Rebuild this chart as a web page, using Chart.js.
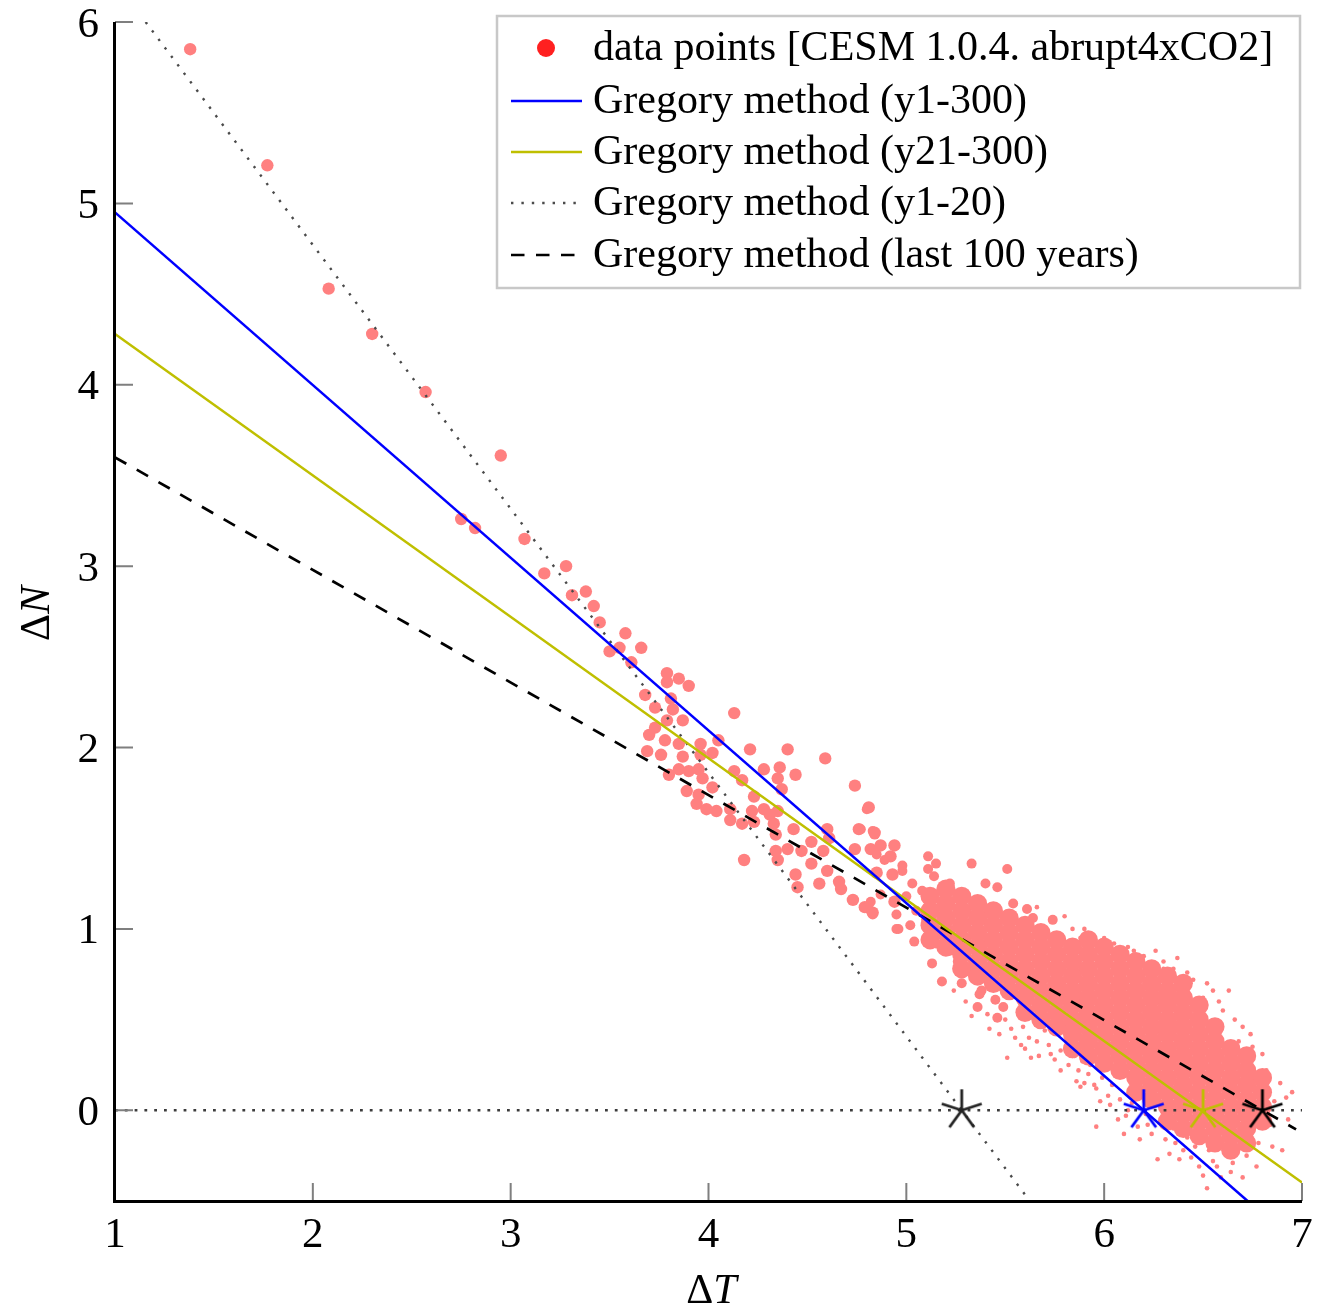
<!DOCTYPE html>
<html>
<head>
<meta charset="utf-8">
<title>Gregory regression – CESM 1.0.4 abrupt4xCO2</title>
<script src="https://cdn.jsdelivr.net/npm/chart.js@4.4.1/dist/chart.umd.min.js"></script>
<style>
  html, body { margin: 0; padding: 0; background: #fff; }
  canvas { display: block; }
</style>
</head>
<body>
<canvas id="chart" width="1329" height="1311"></canvas>
<script>
// ── Data ───────────────────────────────────────────────────────
const xTicks = [1, 2, 3, 4, 5, 6, 7];
const yTicks = [0, 1, 2, 3, 4, 5, 6];

const legendLabels = [
  'data points [CESM 1.0.4. abrupt4xCO2]',
  'Gregory method (y1-300)',
  'Gregory method (y21-300)',
  'Gregory method (y1-20)',
  'Gregory method (last 100 years)',
];

// first decades: single, well separated years
const earlyPoints = [
  [1.38,5.85],[1.77,5.21],[2.08,4.53],[2.30,4.28],[2.57,3.96],[2.95,3.61],[2.75,3.26],[2.82,3.21],
  [3.07,3.15],[3.17,2.96],[3.28,3.00],[3.31,2.84],[3.38,2.86],[3.42,2.78],[3.45,2.69],[3.58,2.63],
  [3.55,2.55],[3.50,2.53],[3.66,2.55],[3.61,2.47],[3.79,2.41],[3.79,2.36],[3.85,2.38],[3.90,2.34],
  [3.68,2.29],[3.81,2.27],[3.73,2.22],[3.82,2.21],[4.13,2.19],[3.79,2.15],[3.87,2.15],[3.73,2.11],
  [3.70,2.07],[3.78,2.04],[3.85,2.02],[3.96,2.02],[4.05,2.04],[3.69,1.98],[3.76,1.96],[3.87,1.95],
  [4.02,1.97],[3.96,1.96],[4.21,1.99],[4.40,1.99],[4.59,1.94],[3.85,1.88],[3.90,1.87],[3.95,1.88],
  [3.97,1.83],[3.80,1.85],[4.02,1.78],[4.13,1.87],[4.17,1.82],[4.28,1.88],[4.36,1.89],[4.35,1.83],
  [4.44,1.85],[4.37,1.77],[4.74,1.79],[3.89,1.76],[3.95,1.74],[3.94,1.69],[3.99,1.66],[4.04,1.65],
  [4.11,1.66],[4.23,1.73],[4.22,1.65],[4.28,1.66],[4.31,1.63],[4.35,1.65],[4.11,1.60],[4.17,1.58],
  [4.23,1.59],[4.33,1.58],[4.43,1.55],[4.81,1.67],[4.76,1.55],[4.84,1.53],[4.34,1.52],[4.34,1.43],
  [4.40,1.44],[4.47,1.43],[4.52,1.48],[4.60,1.55],[4.61,1.50],[4.35,1.38],[4.52,1.36],[4.58,1.43],
  [4.18,1.38],[4.44,1.30],[4.60,1.32],[4.56,1.25],[4.45,1.23],[4.66,1.26],[4.67,1.22],[4.73,1.16],
  [4.79,1.12],[4.83,1.09],[4.74,1.44],[4.82,1.44],[4.87,1.46],[4.94,1.46],[4.92,1.40],[4.85,1.31],
  [4.93,1.30],[4.94,1.15],
];

// upper-left end of the cloud
const cloudMedium = [
  [4.80,1.66],[4.83,1.54],[4.87,1.46],[4.85,1.41],[4.89,1.38],[4.98,1.35],[5.11,1.40],[5.15,1.36],
  [5.33,1.36],[5.51,1.33],[4.93,1.30],[4.98,1.32],[5.11,1.33],[5.14,1.29],[5.03,1.25],[5.08,1.21],
  [5.22,1.25],[5.40,1.25],[5.46,1.23],[4.87,1.19],[4.82,1.15],[4.83,1.08],[4.96,1.00],[5.04,0.93],
  [5.13,0.99],[5.13,0.81],[5.18,0.71],[5.28,0.70],[5.37,0.64],[5.54,1.14],[5.61,1.11],[5.74,1.05],
  [5.64,1.06],[4.77,1.55],[4.84,1.52],[4.95,1.00],[4.73,1.16],[4.82,1.10],[5.45,0.61],[5.38,0.66],
  [5.49,0.57],[5.36,0.57],[5.46,0.51],[5.00,1.18],[5.05,1.10],[4.95,1.08],[5.02,1.02],[5.10,1.05],
  [5.18,1.12],[5.20,1.02],[5.15,0.92],[5.22,0.88],[5.26,0.82],
];

// dense core of the cloud, by columns of ΔT
const coreX = [5.12, 5.20, 5.28, 5.36, 5.44, 5.52, 5.60, 5.68, 5.76, 5.84, 5.92,
               6.00, 6.08, 6.16, 6.24, 6.32, 6.40, 6.48, 6.56, 6.64, 6.72, 6.80];
const coreY = [
  [0.94,1.02,1.10,1.18],
  [0.90,0.98,1.06,1.14,1.22],
  [0.78,0.86,0.94,1.02,1.10,1.18],
  [0.74,0.82,0.90,0.98,1.06,1.14],
  [0.70,0.78,0.86,0.94,1.02,1.10],
  [0.66,0.74,0.82,0.90,0.98,1.06],
  [0.54,0.62,0.70,0.78,0.86,0.94,1.02],
  [0.50,0.58,0.66,0.74,0.82,0.90,0.98],
  [0.46,0.54,0.62,0.70,0.78,0.86,0.94],
  [0.34,0.42,0.50,0.58,0.66,0.74,0.82,0.90],
  [0.30,0.38,0.46,0.54,0.62,0.70,0.78,0.86,0.94],
  [0.26,0.34,0.42,0.50,0.58,0.66,0.74,0.82,0.90],
  [0.22,0.30,0.38,0.46,0.54,0.62,0.70,0.78,0.86],
  [0.10,0.18,0.26,0.34,0.42,0.50,0.58,0.66,0.74,0.82],
  [0.06,0.14,0.22,0.30,0.38,0.46,0.54,0.62,0.70,0.78],
  [-0.06,0.02,0.10,0.18,0.26,0.34,0.42,0.50,0.58,0.66,0.74],
  [-0.10,-0.02,0.06,0.14,0.22,0.30,0.38,0.46,0.54,0.62,0.70],
  [-0.14,-0.06,0.02,0.10,0.18,0.26,0.34,0.42,0.50,0.58],
  [-0.18,-0.10,-0.02,0.06,0.14,0.22,0.30,0.38,0.46],
  [-0.22,-0.14,-0.06,0.02,0.10,0.18,0.26,0.34],
  [-0.18,-0.10,-0.02,0.06,0.14,0.22,0.30],
  [-0.06,0.02,0.10,0.18],
];

// scattered fringe of the cloud
const cloudSparse = [
  [5.80,1.07],[5.88,0.95],[5.94,0.95],[6.05,0.92],[6.15,0.88],[6.25,0.81],[6.37,0.84],[6.55,0.66],
  [6.63,0.66],[6.70,0.46],[6.80,0.31],[6.89,0.15],[6.92,0.07],[6.90,-0.22],[6.85,-0.20],[6.77,-0.31],
  [6.70,-0.37],[6.52,-0.43],[6.27,-0.27],[6.33,-0.24],[6.07,-0.05],[5.98,0.05],[5.86,0.16],[5.78,0.22],
  [5.63,0.29],[5.51,0.29],[5.73,0.31],[5.66,0.38],[5.59,0.46],[5.89,0.27],[5.81,0.38],[5.88,0.13],
  [5.96,-0.09],[6.10,-0.13],[6.18,-0.16],[6.40,-0.22],[6.48,-0.31],[6.59,-0.37],[6.65,-0.29],
  [6.45,0.72],[6.30,0.78],[6.50,0.62],[6.60,0.55],[6.68,0.38],[6.75,0.35],[6.82,0.22],[6.86,0.05],
  [6.84,-0.08],[6.78,-0.18],[6.72,-0.25],[6.62,-0.24],[6.55,-0.28],[6.44,-0.26],[6.36,-0.18],
  [6.22,-0.08],[6.12,0.00],[6.02,0.08],[5.95,0.14],[5.92,0.20],[5.84,0.30],[5.70,0.44],[5.55,0.40],
  [5.60,0.34],[5.42,0.45],[5.50,0.50],[5.30,0.60],[5.24,0.66],[5.90,1.00],[6.00,0.95],[6.12,0.90],
  [6.20,0.85],[6.30,0.82],[6.42,0.76],[5.66,1.12],[5.84,1.00],[6.95,0.10],[6.93,-0.05],
  [5.72,0.36],[5.75,0.28],[5.78,0.33],[5.82,0.25],[5.85,0.30],[5.87,0.22],[5.90,0.15],[5.93,0.25],
  [5.96,0.12],[5.99,0.18],[6.03,0.03],[6.04,0.14],[6.08,0.06],[6.11,-0.03],[6.14,0.04],[6.17,-0.09],
  [6.21,-0.02],[6.24,-0.13],[6.28,-0.07],[6.31,-0.16],[6.35,-0.10],[6.38,-0.27],[6.42,-0.15],
  [6.46,-0.20],[6.50,-0.36],[6.53,-0.22],[6.57,-0.31],[6.61,-0.19],[6.64,-0.34],[6.68,-0.21],
  [6.74,-0.12],[6.79,-0.05],[6.83,0.12],[5.67,0.30],[5.62,0.40],[5.58,0.36],[5.53,0.45],[5.47,0.42],
  [5.41,0.53],[5.33,0.52],[6.26,0.88],[6.35,0.78],[6.52,0.70],[6.58,0.60],[6.66,0.50],[6.74,0.42],
];

// regression lines, end points clipped to the axes box
const fitAll     = [[1, 4.95], [6.725, -0.5]];    // y1-300
const fitLate    = [[1, 4.28], [7, -0.398]];      // y21-300
const fitEarly   = [[1.155, 6.0], [5.624, -0.5]]; // y1-20
const fitLast100 = [[1, 3.6], [6.97, -0.105]];    // last 100 years
const zeroLine   = [[1, 0], [7, 0]];

// equilibrium estimates (ΔN = 0)
const ecsX      = [5.28, 6.2, 6.5, 6.8];
const ecsColors = ['#222222', '#0000ff', '#bfbf00', '#000000'];

// ── Helpers ───────────────────────────────────────────────────
const toXY = arr => arr.map(([x, y]) => ({ x, y }));
const corePoints = coreX.flatMap((x, i) => coreY[i].map(y => ({ x, y })));

const PINK  = '#ff8080';
const SERIF = '"Liberation Serif", "DejaVu Serif", serif';

function starMarker(color) {
  const s = 50;
  const c = document.createElement('canvas');
  c.width = c.height = s;
  const g = c.getContext('2d');
  g.strokeStyle = color;
  g.lineWidth = 2.8;
  g.beginPath();
  for (let k = 0; k < 5; k++) {
    const a = -Math.PI / 2 + k * 2 * Math.PI / 5;
    g.moveTo(s / 2, s / 2);
    g.lineTo(s / 2 + 21 * Math.cos(a), s / 2 + 21 * Math.sin(a));
  }
  g.stroke();
  return c;
}
const starImgs = ecsColors.map(starMarker);

function dots(data, radius, label) {
  return {
    type: 'scatter', label, data, order: 3,
    pointRadius: radius, pointBorderWidth: 0,
    pointBackgroundColor: PINK, pointBorderColor: PINK,
  };
}

function line(data, color, width, dash, label) {
  return {
    type: 'scatter', label, data: toXY(data), order: 1,
    showLine: true, pointRadius: 0,
    borderColor: color, borderWidth: width, borderDash: dash,
  };
}

// ── Axes drawn like the paper figure (inward ticks, no box) ───
function mathLabel(ctx, x, y, size, sym) {
  // Δ upright, variable italic, centred on x, baseline y
  const upright = `${size}px ${SERIF}`;
  const italic  = `italic ${size}px ${SERIF}`;
  ctx.font = upright; const w1 = ctx.measureText('Δ').width;
  ctx.font = italic;  const w2 = ctx.measureText(sym).width;
  const px = x - (w1 + w2) / 2;
  ctx.textAlign = 'left';
  ctx.font = upright; ctx.fillText('Δ', px, y);
  ctx.font = italic;  ctx.fillText(sym, px + w1, y);
}

const axesPlugin = {
  id: 'paperAxes',
  afterDraw(chart) {
    const { ctx, chartArea: a, scales: { x, y } } = chart;
    ctx.save();

    ctx.strokeStyle = '#7f7f7f';
    ctx.lineWidth = 2;
    ctx.beginPath();
    for (const v of xTicks) {
      const px = x.getPixelForValue(v);
      ctx.moveTo(px, a.bottom); ctx.lineTo(px, a.bottom - 18);
    }
    for (const v of yTicks) {
      const py = y.getPixelForValue(v);
      ctx.moveTo(a.left, py); ctx.lineTo(a.left + 18, py);
    }
    ctx.stroke();

    ctx.strokeStyle = '#000';
    ctx.lineWidth = 3;
    ctx.beginPath();
    ctx.moveTo(a.left - 0.5, a.top);
    ctx.lineTo(a.left - 0.5, a.bottom + 0.5);
    ctx.lineTo(a.right, a.bottom + 0.5);
    ctx.stroke();

    ctx.fillStyle = '#000';
    ctx.font = `43px ${SERIF}`;
    ctx.textBaseline = 'alphabetic';
    ctx.textAlign = 'center';
    for (const v of xTicks) ctx.fillText(String(v), x.getPixelForValue(v), a.bottom + 46);
    ctx.textAlign = 'right';
    for (const v of yTicks) ctx.fillText(String(v), a.left - 16, y.getPixelForValue(v) + 14.5);

    mathLabel(ctx, (a.left + a.right) / 2 + 3, 1303, 42, 'T');
    ctx.translate(49, (a.top + a.bottom) / 2 + 2);
    ctx.rotate(-Math.PI / 2);
    mathLabel(ctx, 0, 0, 42, 'N');
    ctx.restore();
  },
};

// ── Legend box, upper right ───────────────────────────────────
const legendPlugin = {
  id: 'paperLegend',
  afterDraw(chart) {
    const ctx = chart.ctx;
    const rows = [48, 101, 152, 203, 255];
    ctx.save();
    ctx.fillStyle = '#fff';
    ctx.fillRect(497, 16, 803, 272);
    ctx.strokeStyle = '#c8c8c8';
    ctx.lineWidth = 2.5;
    ctx.strokeRect(497, 16, 803, 272);

    ctx.fillStyle = '#ff2020';
    ctx.beginPath(); ctx.arc(546, rows[0], 9, 0, 2 * Math.PI); ctx.fill();

    const samples = [
      null,
      { color: '#0000ff', width: 2.5, dash: [],          to: 582 },
      { color: '#bfbf00', width: 2.5, dash: [],          to: 582 },
      { color: '#4a4a4a', width: 2.4, dash: [2.4, 8],    to: 579 },
      { color: '#000000', width: 2.6, dash: [13.5, 11.5], to: 578 },
    ];
    samples.forEach((s, i) => {
      if (!s) return;
      ctx.strokeStyle = s.color; ctx.lineWidth = s.width; ctx.setLineDash(s.dash);
      ctx.beginPath(); ctx.moveTo(511, rows[i]); ctx.lineTo(s.to, rows[i]); ctx.stroke();
    });
    ctx.setLineDash([]);

    ctx.fillStyle = '#000';
    ctx.font = `42px ${SERIF}`;
    ctx.textAlign = 'left';
    ctx.textBaseline = 'alphabetic';
    legendLabels.forEach((t, i) => ctx.fillText(t, 593, rows[i] + 12));
    ctx.restore();
  },
};

// ── Chart ─────────────────────────────────────────────────────
new Chart(document.getElementById('chart'), {
  type: 'scatter',
  data: {
    datasets: [
      {
        type: 'scatter', label: 'ΔN = 0', order: 0,
        data: ecsX.map(x => ({ x, y: 0 })),
        pointStyle: ctx => starImgs[ctx.dataIndex],
        pointRadius: 21,
      },
      line(fitAll,     '#0000ff', 2.5, [],        legendLabels[1]),
      line(fitLate,    '#bfbf00', 2.5, [],        legendLabels[2]),
      line(fitEarly,   '#4a4a4a', 2.4, [2.4, 8.2], legendLabels[3]),
      line(fitLast100, '#000000', 2.7, [13, 12],  legendLabels[4]),
      line(zeroLine,   '#3c3c3c', 2.4, [2.8, 7],  'zero'),
      dots(toXY(earlyPoints), 6.2, legendLabels[0]),
      dots(toXY(cloudMedium), 5,   legendLabels[0]),
      dots(corePoints,        9.6, legendLabels[0]),
      dots(toXY(cloudSparse), 2.3, legendLabels[0]),
    ],
  },
  options: {
    responsive: false,
    animation: false,
    events: [],
    layout: { padding: { left: 0, right: 27, top: 16, bottom: 0 } },
    plugins: { legend: { display: false }, tooltip: { enabled: false } },
    scales: {
      x: {
        type: 'linear', min: 1, max: 7,
        ticks: { display: false }, grid: { display: false }, border: { display: false },
        afterFit(s) { s.height = 110; s.paddingLeft = s.paddingRight = 0; },
      },
      y: {
        type: 'linear', min: -0.5, max: 6,
        ticks: { display: false }, grid: { display: false }, border: { display: false },
        afterFit(s) { s.width = 115; s.paddingTop = s.paddingBottom = 0; },
      },
    },
  },
  plugins: [axesPlugin, legendPlugin],
});
</script>
</body>
</html>
